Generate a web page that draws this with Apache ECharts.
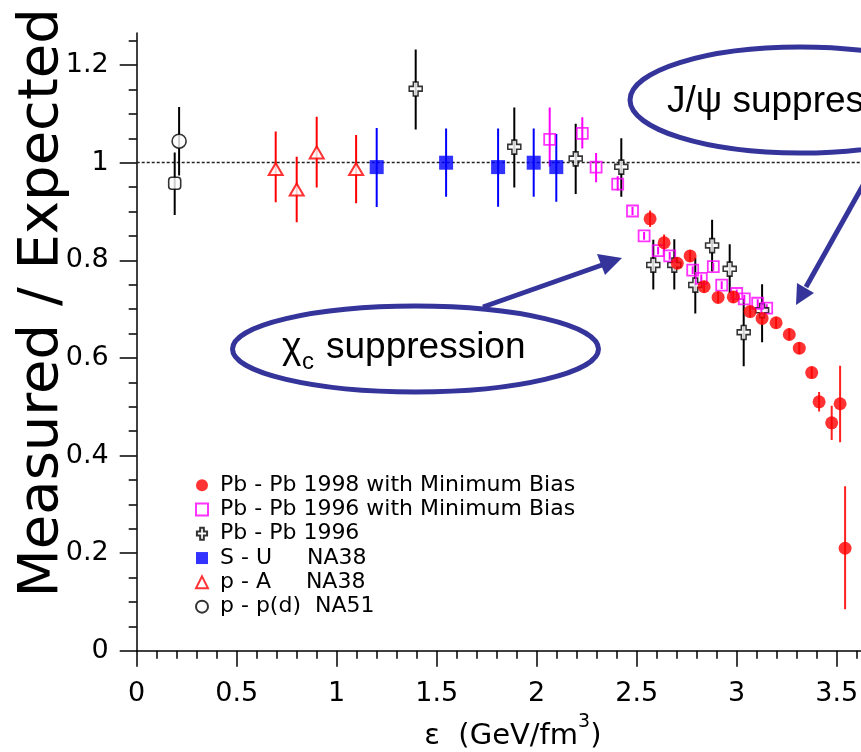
<!DOCTYPE html>
<html><head><meta charset="utf-8">
<script src="https://cdn.jsdelivr.net/npm/echarts@6/dist/echarts.min.js"></script>
<style>html,body{margin:0;padding:0;background:#fff}#c{width:861px;height:752px}</style>
</head><body><div id="c"></div>
<script>
// ---- axis ticks ----
const xTickValues = [0, 0.5, 1, 1.5, 2, 2.5, 3, 3.5];
const yTickValues = [0, 0.2, 0.4, 0.6, 0.8, 1, 1.2];
const xMinorTickValues = Array.from({length: 37}, (_, i) => +(i * 0.1).toFixed(1));
const yMinorTickValues = Array.from({length: 26}, (_, i) => +(i * 0.05).toFixed(2));

// ---- Pb-Pb 1998 with Minimum Bias ----
const pb98X  = [2.567, 2.637, 2.703, 2.767, 2.837, 2.907, 2.983, 3.067, 3.127, 3.197, 3.263, 3.313, 3.375, 3.412, 3.475, 3.517, 3.542];
const pb98Y  = [0.885, 0.836, 0.794, 0.809, 0.746, 0.724, 0.725, 0.695, 0.681, 0.672, 0.648, 0.620, 0.570, 0.510, 0.467, 0.506, 0.210];
const pb98Lo = [0.868, 0.819, 0.782, 0.797, 0.734, 0.712, 0.713, 0.683, 0.669, 0.660, 0.636, 0.608, 0.558, 0.490, 0.432, 0.427, 0.085];
const pb98Hi = [0.902, 0.853, 0.806, 0.821, 0.758, 0.736, 0.737, 0.707, 0.693, 0.684, 0.660, 0.632, 0.582, 0.530, 0.502, 0.584, 0.337];

// ---- Pb-Pb 1996 with Minimum Bias ----
const pb96mbX  = [2.065, 2.228, 2.297, 2.405, 2.479, 2.537, 2.607, 2.665, 2.780, 2.823, 2.883, 2.925, 3.000, 3.038, 3.105, 3.150];
const pb96mbY  = [1.048, 1.060, 0.991, 0.956, 0.901, 0.850, 0.820, 0.809, 0.780, 0.763, 0.787, 0.749, 0.732, 0.721, 0.712, 0.702];
const pb96mbLo = [0.992, 1.029, 0.960, 0.943, 0.893, 0.842, 0.812, 0.801, 0.772, 0.755, 0.779, 0.741, 0.724, 0.713, 0.704, 0.694];
const pb96mbHi = [1.113, 1.093, 1.020, 0.972, 0.909, 0.858, 0.828, 0.817, 0.788, 0.771, 0.795, 0.757, 0.740, 0.729, 0.720, 0.710];

// ---- Pb-Pb 1996 ----
const pb96X  = [1.395, 1.888, 2.195, 2.423, 2.583, 2.688, 2.793, 2.877, 2.965, 3.035, 3.127];
const pb96Y  = [1.151, 1.032, 1.008, 0.991, 0.790, 0.790, 0.749, 0.830, 0.782, 0.652, 0.697];
const pb96Lo = [1.068, 0.949, 0.936, 0.930, 0.740, 0.740, 0.691, 0.777, 0.733, 0.583, 0.632];
const pb96Hi = [1.232, 1.113, 1.080, 1.050, 0.842, 0.843, 0.805, 0.883, 0.833, 0.721, 0.751];

// ---- S-U NA38 ----
const suX  = [1.200, 1.547, 1.807, 1.985, 2.098];
const suY  = [0.991, 1.000, 0.991, 1.000, 0.991];
const suLo = [0.909, 0.930, 0.910, 0.930, 0.920];
const suHi = [1.071, 1.070, 1.070, 1.070, 1.059];

// ---- p-A NA38 ----
const paX  = [0.695, 0.800, 0.900, 1.097];
const paY  = [0.987, 0.945, 1.021, 0.987];
const paLo = [0.919, 0.878, 0.949, 0.917];
const paHi = [1.064, 1.012, 1.094, 1.057];

// ---- p-p(d) NA51 ----
const ppX  = [0.212];
const ppY  = [1.044];
const ppLo = [0.974];
const ppHi = [1.114];
const pdX  = [0.190];
const pdY  = [0.958];
const pdLo = [0.893];
const pdHi = [1.021];

const names = ['Pb - Pb 1998 with Minimum Bias', 'Pb - Pb 1996 with Minimum Bias', 'Pb - Pb 1996',
               'S - U     NA38', 'p - A     NA38', 'p - p(d)  NA51'];
const refValue = 1;

const pts = (xs, ys) => xs.map((x, i) => [x, ys[i]]);
const errs = (xs, lo, hi) => xs.map((x, i) => [x, lo[i], hi[i]]);

function errSeries(xs, lo, hi, color) {
  return {
    type: 'custom', silent: true, z: 2, clip: true,
    data: errs(xs, lo, hi),
    encode: {x: 0, y: [1, 2]},
    renderItem: function (params, api) {
      const x = api.value(0);
      const a = api.coord([x, api.value(1)]);
      const b = api.coord([x, api.value(2)]);
      return {type: 'line', shape: {x1: a[0], y1: a[1], x2: b[0], y2: b[1]},
              style: {stroke: color, lineWidth: 2}};
    }
  };
}

const crossPath = 'path://M3.5,0 H7.5 V4 H11 V8.5 H7.5 V13 H3.5 V8.5 H0 V4 H3.5 Z';
const NAVY = '#34349a';
const chart = echarts.init(document.getElementById('c'), null, {renderer: 'canvas'});
const labelFont = {fontFamily: 'DejaVu Sans', fontSize: 27, color: '#000'};

const option = {
  animation: false,
  backgroundColor: '#fff',
  grid: {left: 136.7, right: 0, top: 32.9, bottom: 101.3, containLabel: false, outerBoundsMode: 'none'},
  xAxis: [
    {type: 'value', min: 0, max: 3.6215, position: 'bottom',
     axisLine: {show: true, onZero: false, lineStyle: {color: '#000', width: 1.5}},
     axisTick: {show: true, inside: false, length: 16, customValues: xTickValues, lineStyle: {color: '#000', width: 1.5}},
     axisLabel: Object.assign({customValues: xTickValues, margin: 30}, labelFont),
     splitLine: {show: false},
     name: '{m|ε  (GeV/fm}{s|3}{m|)}', nameLocation: 'middle', nameGap: 62, nameMoveOverlap: false,
     nameTextStyle: {padding: [0, 0, 0, 28],
       rich: {m: {fontFamily: 'DejaVu Sans', fontSize: 29, color: '#000'},
              s: {fontFamily: 'DejaVu Sans', fontSize: 19, color: '#000', padding: [0, 0, 28, 0]}}}
    },
    {type: 'value', min: 0, max: 3.6215, position: 'bottom',
     axisLine: {show: false, onZero: false},
     axisTick: {show: true, inside: false, length: 8, customValues: xMinorTickValues, lineStyle: {color: '#000', width: 1.5}},
     axisLabel: {show: false}, splitLine: {show: false}}
  ],
  yAxis: [
    {type: 'value', min: 0, max: 1.266, position: 'left',
     axisLine: {show: true, onZero: false, lineStyle: {color: '#000', width: 1.5}},
     axisTick: {show: true, inside: false, length: 17, customValues: yTickValues, lineStyle: {color: '#000', width: 1.5}},
     axisLabel: Object.assign({customValues: yTickValues, margin: 28}, labelFont),
     splitLine: {show: false},
     name: 'Measured / Expected', nameLocation: 'middle', nameRotate: 90, nameGap: 66, nameMoveOverlap: false,
     nameTextStyle: {fontFamily: 'DejaVu Sans', fontSize: 56, color: '#000', padding: [0, 0, 0, 78]}
    },
    {type: 'value', min: 0, max: 1.266, position: 'left',
     axisLine: {show: false, onZero: false},
     axisTick: {show: true, inside: false, length: 8, customValues: yMinorTickValues, lineStyle: {color: '#000', width: 1.5}},
     axisLabel: {show: false}, splitLine: {show: false}}
  ],
  legend: {
    orient: 'vertical', left: 190, top: 468, itemWidth: 12, itemHeight: 12, itemGap: 0,
    selectedMode: false, data: names,
    textStyle: {fontFamily: 'DejaVu Sans', fontSize: 22, lineHeight: 24.3, color: '#000', padding: [0, 0, 0, 7]}
  },
  series: [
    errSeries(ppX, ppLo, ppHi, '#000'),
    errSeries(pdX, pdLo, pdHi, '#000'),
    errSeries(paX, paLo, paHi, '#ff0000'),
    errSeries(suX, suLo, suHi, '#0000ff'),
    errSeries(pb96X, pb96Lo, pb96Hi, '#000'),
    errSeries(pb96mbX, pb96mbLo, pb96mbHi, '#ff00ff'),
    errSeries(pb98X, pb98Lo, pb98Hi, '#ff2020'),
    {name: names[5], type: 'scatter', z: 3, data: pts(ppX, ppY), symbol: 'circle', symbolSize: 14,
     itemStyle: {color: '#fff', borderColor: '#000', borderWidth: 1.6},
     markLine: {silent: true, symbol: 'none', label: {show: false}, z: 1,
       lineStyle: {color: '#222', type: [3, 2], width: 1.4}, data: [{yAxis: refValue}]}},
    {type: 'scatter', z: 3, data: pts(pdX, pdY), symbol: 'roundRect', symbolSize: 12,
     itemStyle: {color: '#fff', borderColor: '#000', borderWidth: 1.6}},
    {name: names[4], type: 'scatter', z: 3, data: pts(paX, paY), symbol: 'triangle', symbolSize: [14, 12],
     itemStyle: {color: '#fff', borderColor: '#ff0000', borderWidth: 2}},
    {name: names[3], type: 'scatter', z: 3, data: pts(suX, suY), symbol: 'rect', symbolSize: 14,
     itemStyle: {color: '#0000ff'}},
    {name: names[2], type: 'scatter', z: 3, data: pts(pb96X, pb96Y), symbol: crossPath, symbolSize: [13, 14],
     itemStyle: {color: '#fff', borderColor: '#000', borderWidth: 1.6}},
    {name: names[1], type: 'scatter', z: 3, data: pts(pb96mbX, pb96mbY), symbol: 'rect', symbolSize: 11,
     itemStyle: {color: 'rgba(255,255,255,0)', borderColor: '#ff00ff', borderWidth: 1.8}},
    {name: names[0], type: 'scatter', z: 4, data: pts(pb98X, pb98Y), symbol: 'circle', symbolSize: 13,
     itemStyle: {color: '#ff0000'}}
  ],
  graphic: {elements: [
    // chi_c annotation
    {type: 'line', z: 100, shape: {x1: 483, y1: 307, x2: 602, y2: 265}, style: {stroke: NAVY, lineWidth: 5}},
    {type: 'polygon', z: 100, shape: {points: [[622, 258], [605, 275], [597, 254]]}, style: {fill: NAVY}},
    {type: 'ellipse', z: 101, shape: {cx: 415.5, cy: 349, rx: 183, ry: 43}, style: {fill: '#fff', stroke: NAVY, lineWidth: 5}},
    {type: 'text', z: 102, style: {x: 282, y: 348, text: 'χ', font: '37px "Liberation Sans"', fill: '#000', textAlign: 'left', align: 'left', textVerticalAlign: 'middle', verticalAlign: 'middle'}},
    {type: 'text', z: 102, style: {x: 302, y: 362, text: 'c', font: '24px "Liberation Sans"', fill: '#000', textAlign: 'left', align: 'left', textVerticalAlign: 'middle', verticalAlign: 'middle'}},
    {type: 'text', z: 102, style: {x: 326, y: 348, text: 'suppression', font: '37px "Liberation Sans"', fill: '#000', textAlign: 'left', align: 'left', textVerticalAlign: 'middle', verticalAlign: 'middle'}},
    // J/psi annotation
    {type: 'line', z: 100, shape: {x1: 885, y1: 146, x2: 806, y2: 287}, style: {stroke: NAVY, lineWidth: 5}},
    {type: 'polygon', z: 100, shape: {points: [[796, 305], [797, 283], [814, 293]]}, style: {fill: NAVY}},
    {type: 'ellipse', z: 101, shape: {cx: 800, cy: 100, rx: 170, ry: 53}, style: {fill: '#fff', stroke: NAVY, lineWidth: 5}},
    {type: 'text', z: 102, style: {x: 667, y: 102, text: 'J/ψ suppression', font: '37px "Liberation Sans"', fill: '#000', textAlign: 'left', align: 'left', textVerticalAlign: 'middle', verticalAlign: 'middle'}}
  ]}
};
chart.setOption(option);
</script>
</body></html>
